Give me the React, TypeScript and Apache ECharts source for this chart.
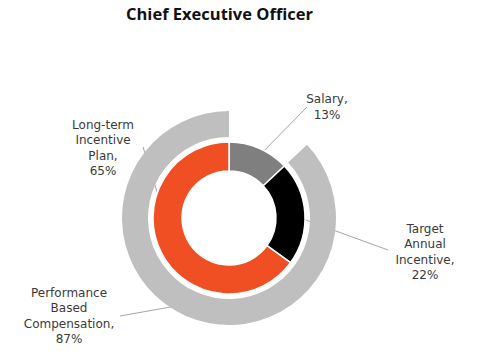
import React, { useEffect, useRef } from "react";
import * as echarts from "echarts";

const titleText = "Chief Executive Officer";
const innerNames = ["Salary", "Target Annual Incentive", "Long-term Incentive Plan"];
const innerLabels = ["Salary,\n13%", "Target\nAnnual\nIncentive,\n22%", "Long-term\nIncentive\nPlan,\n65%"];
const innerValues = [13, 22, 65];
const innerColors = ["#7f7f7f", "#000000", "#f04e23"];
const outerNames = ["", "Performance Based Compensation"];
const outerLabels = ["", "Performance\nBased\nCompensation,\n87%"];
const outerValues = [13, 87];

// label placement (x, y centre) and leader line [start, end]
const innerLabelPos = [
  { x: 327, y: 107, from: [255, 160], to: [307, 107] },
  { x: 425, y: 252, from: [292, 215], to: [388, 250] },
  { x: 103, y: 148, from: [174, 246], to: [143, 147] },
];
const outerLabelPos = [
  null,
  { x: 69, y: 316, from: [193, 303], to: [120, 316] },
];

const LABEL_FONT = "'DejaVu Sans', sans-serif";
const TITLE_FONT = "'Open Sans', sans-serif";

export default function App() {
  const ref = useRef<HTMLDivElement>(null);
  useEffect(() => {
    const chart = echarts.init(ref.current!, null, { renderer: "svg" });
    const labelStyle = {
      show: true,
      fontFamily: LABEL_FONT,
      fontSize: 12,
      lineHeight: 15.5,
      color: "#3a3a3a",
      align: "center",
    };
    chart.setOption({
      animation: false,
      title: {
        text: titleText,
        left: 121,
        top: 0,
        textStyle: { fontFamily: TITLE_FONT, fontSize: 16.5, fontWeight: "bold", color: "#111111" },
      },
      series: [
        {
          type: "pie",
          center: [229, 218],
          radius: [47, 76],
          startAngle: 90,
          clockwise: true,
          itemStyle: { borderColor: "#ffffff", borderWidth: 1.5 },
          label: { ...labelStyle, formatter: (p: any) => innerLabels[p.dataIndex] },
          labelLine: { show: true, lineStyle: { color: "#a6a6a6", width: 1 } },
          labelLayout: (p: any) => {
            const l = innerLabelPos[p.dataIndex];
            return {
              x: l.x,
              y: l.y,
              align: "center",
              verticalAlign: "middle",
              labelLinePoints: [l.from, l.to, l.to],
            };
          },
          emphasis: { disabled: true },
          data: innerNames.map((n, i) => ({ name: n, value: innerValues[i], itemStyle: { color: innerColors[i] } })),
        },
        {
          type: "pie",
          center: [229, 218],
          radius: [81, 107],
          startAngle: 90,
          clockwise: true,
          label: { ...labelStyle, formatter: (p: any) => outerLabels[p.dataIndex] },
          labelLine: { show: true, lineStyle: { color: "#a6a6a6", width: 1 } },
          labelLayout: (p: any) => {
            const l = outerLabelPos[p.dataIndex];
            if (!l) return {};
            return {
              x: l.x,
              y: l.y,
              align: "center",
              verticalAlign: "middle",
              labelLinePoints: [l.from, l.to, l.to],
            };
          },
          emphasis: { disabled: true },
          data: outerNames.map((n, i) => ({
            name: n,
            value: outerValues[i],
            itemStyle: { color: i === 0 ? "rgba(0,0,0,0)" : "#bfbfbf" },
            label: { show: i !== 0 },
            labelLine: { show: i !== 0 },
          })),
        },
      ],
    });
    return () => chart.dispose();
  }, []);
  return (
    <div
      ref={ref}
      style={{ position: "fixed", left: 0, top: 0, width: 477, height: 360, background: "#ffffff" }}
    />
  );
}
